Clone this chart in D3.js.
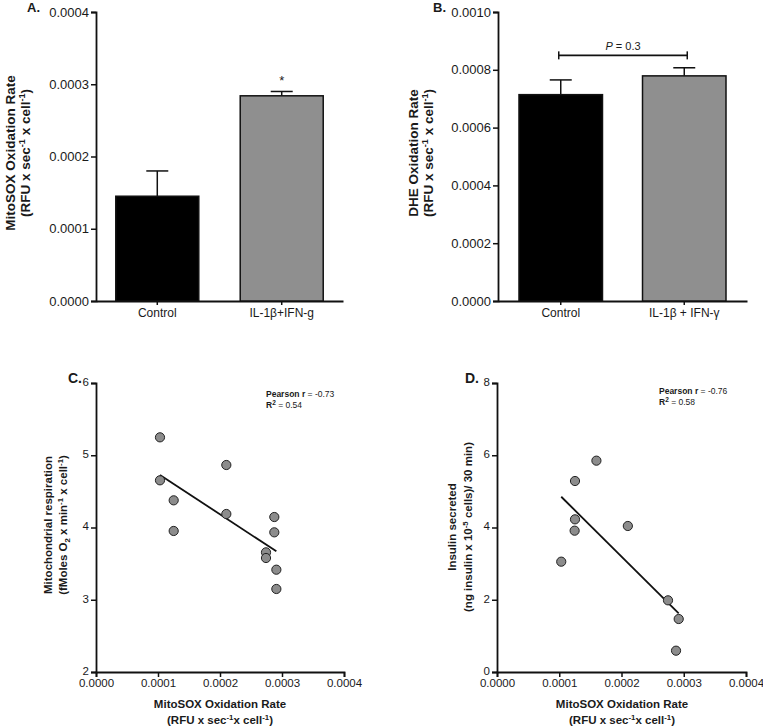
<!DOCTYPE html>
<html><head><meta charset="utf-8">
<script src="https://cdn.jsdelivr.net/npm/d3@7"></script>
<style>body{margin:0;background:#fff}text{font-family:"Liberation Sans",Arial,sans-serif;fill:#1a1a1a}</style>
</head><body>
<svg id="c" width="763" height="726"></svg>
<script>
// ---- Data ----
const barCatsA = ["Control", "IL-1β+IFN-g"];
const barValsA = [0.000145, 0.000284];
const barErrA = [0.000035, 0.000006];
const ticksA = [0, 0.0001, 0.0002, 0.0003, 0.0004];

const barCatsB = ["Control", "IL-1β + IFN-γ"];
const barValsB = [0.000714, 0.000779];
const barErrB = [0.000051, 0.000028];
const ticksB = [0, 0.0002, 0.0004, 0.0006, 0.0008, 0.0010];

const barColors = ["#000000", "#8f8f8f"];

const scatterXC = [0.0001032,0.0001032,0.0001253,0.0001253,0.0002102,0.0002102,0.0002876,0.0002876,0.0002742,0.0002742,0.0002909,0.0002909];
const scatterYC = [5.248,4.653,4.376,3.952,4.865,4.187,4.145,3.933,3.656,3.578,3.416,3.149];
const ticksYC = [2,3,4,5,6];

const scatterXD = [0.0001032,0.0001253,0.0001253,0.0001247,0.0001597,0.0002102,0.0002747,0.0002919,0.0002876];
const scatterYD = [3.054,5.287,4.226,3.912,5.850,4.042,1.984,1.467,0.590];
const ticksYD = [0,2,4,6,8];

const ticksX = [0, 0.0001, 0.0002, 0.0003, 0.0004];

const svg = d3.select("#c");
const fmt4 = d3.format(".4f");

function axisStyle(fs){
  return g=>{
    g.selectAll(".domain").attr("stroke","#111").attr("stroke-width",1.8);
    g.selectAll(".tick line").attr("stroke","#111").attr("stroke-width",1.5);
    g.selectAll(".tick text").attr("font-size",fs).attr("fill","#222").style("font-family",'"Liberation Sans",Arial,sans-serif');
  };
}

function addParts(tx, parts, fs){
  let pend = 0;
  parts.forEach(p=>{
    if (typeof p === "string") {
      const ts = tx.append("tspan").text(p);
      if (pend) { ts.attr("dy", pend); pend = 0; }
    } else {
      const shift = p.sup ? -fs*0.38 : fs*0.3;
      tx.append("tspan").attr("dy",shift + pend).attr("font-size",fs*0.68).text(p.sup||p.sub);
      pend = -shift;
    }
  });
}
function rotTitle(cx, cy, lines, fs, gap){
  const t = svg.append("g").attr("transform",`translate(${cx},${cy}) rotate(-90)`);
  lines.forEach((parts,i)=>{
    const tx = t.append("text").attr("x",0).attr("y",i*gap).attr("dy","0.35em")
      .attr("text-anchor","middle").attr("font-size",fs).attr("font-weight","bold");
    addParts(tx, parts, fs);
  });
}
function hTitle(cx, y, parts, fs){
  const tx = svg.append("text").attr("x",cx).attr("y",y).attr("text-anchor","middle")
    .attr("font-size",fs).attr("font-weight","bold");
  addParts(tx, parts, fs);
}

function barPanel(o){
  const y = d3.scaleLinear().domain(o.domain).range([301,12]);
  const x = d3.scaleBand().domain(o.cats).range(o.xr).paddingInner(o.pi).paddingOuter(o.po);
  svg.append("g").attr("transform",`translate(${o.xr[0]},0)`)
    .call(d3.axisLeft(y).tickValues(o.ticks).tickFormat(fmt4).tickSize(5).tickPadding(2)).call(axisStyle(13));
  svg.append("g").attr("transform",`translate(0,301)`)
    .call(d3.axisBottom(x).tickSize(4).tickSizeOuter(0).tickPadding(3)).call(axisStyle(12));
  o.cats.forEach((c,i)=>{
    const cx = x(c)+x.bandwidth()/2;
    svg.append("line").attr("x1",cx).attr("x2",cx).attr("y1",y(o.vals[i])).attr("y2",y(o.vals[i]+o.err[i])).attr("stroke","#111").attr("stroke-width",1.5);
    svg.append("line").attr("x1",cx-11).attr("x2",cx+11).attr("y1",y(o.vals[i]+o.err[i])).attr("y2",y(o.vals[i]+o.err[i])).attr("stroke","#111").attr("stroke-width",1.5);
    svg.append("rect").attr("x",x(c)).attr("width",x.bandwidth()).attr("y",y(o.vals[i])).attr("height",301-y(o.vals[i]))
      .attr("fill",barColors[i]).attr("stroke","#111").attr("stroke-width",1.5);
  });
  return {x,y};
}

// Panel A
const A = barPanel({domain:[0,0.0004],cats:barCatsA,vals:barValsA,err:barErrA,ticks:ticksA,xr:[96,343],pi:0.333,po:0.159});
svg.append("text").attr("x",A.x(barCatsA[1])+A.x.bandwidth()/2).attr("y",A.y(barValsA[1]+barErrA[1])-6)
  .attr("text-anchor","middle").attr("font-size",13).text("*");
rotTitle(10,153,[["MitoSOX Oxidation Rate"],["(RFU x sec",{sup:"-1"}," x cell",{sup:"-1"},")"]],13.5,15);
svg.append("text").attr("x",27).attr("y",12).attr("font-size",13).attr("font-weight","bold").text("A.");

// Panel B
const B = barPanel({domain:[0,0.001],cats:barCatsB,vals:barValsB,err:barErrB,ticks:ticksB,xr:[498,747],pi:0.324,po:0.17});
{
  const x1 = B.x(barCatsB[0])+B.x.bandwidth()/2 - 2, x2 = B.x(barCatsB[1])+B.x.bandwidth()/2+3, yb = B.y(0.00085);
  svg.append("line").attr("x1",x1).attr("x2",x2).attr("y1",yb).attr("y2",yb).attr("stroke","#111").attr("stroke-width",1.8);
  [x1,x2].forEach(xx=>svg.append("line").attr("x1",xx).attr("x2",xx).attr("y1",yb-4).attr("y2",yb+4).attr("stroke","#111").attr("stroke-width",1.5));
  const t = svg.append("text").attr("x",(x1+x2)/2).attr("y",yb-5).attr("text-anchor","middle").attr("font-size",11);
  t.append("tspan").attr("font-style","italic").text("P");
  t.append("tspan").text(" = 0.3");
}
rotTitle(413,153,[["DHE Oxidation Rate"],["(RFU x sec",{sup:"-1"}," x cell",{sup:"-1"},")"]],13.5,15);
svg.append("text").attr("x",433).attr("y",12).attr("font-size",13).attr("font-weight","bold").text("B.");

// Scatter panels
function scatterPanel(o){
  const x = d3.scaleLinear().domain([0,0.0004]).range(o.xr);
  const y = d3.scaleLinear().domain(o.ydom).range([672,383]);
  svg.append("g").attr("transform",`translate(${o.xr[0]},0)`)
    .call(d3.axisLeft(y).tickValues(o.yticks).tickFormat(d3.format("d")).tickSize(5).tickPadding(2)).call(axisStyle(11.5))
    .selectAll(".tick text").attr("dy","0.2em");
  svg.append("g").attr("transform",`translate(0,672)`)
    .call(d3.axisBottom(x).tickValues(ticksX).tickFormat(fmt4).tickSize(5).tickPadding(2)).call(axisStyle(11.5));
  // regression
  const n = o.xs.length, mx = d3.mean(o.xs), my = d3.mean(o.ys);
  let sxy=0,sxx=0;
  for(let i=0;i<n;i++){sxy+=(o.xs[i]-mx)*(o.ys[i]-my);sxx+=(o.xs[i]-mx)**2;}
  const b = sxy/sxx, a = my-b*mx;
  const [xmin,xmax] = d3.extent(o.xs);
  svg.append("line").attr("x1",x(xmin)).attr("x2",x(xmax)).attr("y1",y(a+b*xmin)).attr("y2",y(a+b*xmax))
    .attr("stroke","#111").attr("stroke-width",1.8);
  o.xs.forEach((v,i)=>svg.append("circle").attr("cx",x(v)).attr("cy",y(o.ys[i])).attr("r",4.6)
    .attr("fill","#8c8c8c").attr("stroke","#222").attr("stroke-width",1));
  const t1 = svg.append("text").attr("x",o.tx).attr("y",o.ty).attr("font-size",8.5);
  t1.append("tspan").attr("font-weight","bold").text("Pearson r");
  t1.append("tspan").text(" = " + o.r);
  const t2 = svg.append("text").attr("x",o.tx).attr("y",o.ty+11).attr("font-size",8.5);
  t2.append("tspan").attr("font-weight","bold").text("R");
  t2.append("tspan").attr("font-weight","bold").attr("font-size",6.5).attr("dy",-3.5).text("2");
  t2.append("tspan").attr("dy",3.5).text(" = " + o.r2);
  hTitle(o.tc, 708, ["MitoSOX Oxidation Rate"], 11.5);
  hTitle(o.tc, 724, ["(RFU x sec",{sup:"-1"},"x cell",{sup:"-1"},")"], 11.5);
  return {x,y};
}
scatterPanel({xs:scatterXC,ys:scatterYC,ydom:[2,6],yticks:ticksYC,xr:[96,344],tx:266,ty:397,r:"-0.73",r2:"0.54",tc:220});
rotTitle(48,525,[["Mitochondrial respiration"],["(fMoles O",{sub:"2"}," x min",{sup:"-1"}," x cell",{sup:"-1"},")"]],11.5,15);
svg.append("text").attr("x",68).attr("y",383).attr("font-size",14).attr("font-weight","bold").text("C.");

scatterPanel({xs:scatterXD,ys:scatterYD,ydom:[0,8],yticks:ticksYD,xr:[497,746],tx:659,ty:394,r:"-0.76",r2:"0.58",tc:622});
rotTitle(452,527,[["Insulin secreted"],["(ng insulin x 10",{sup:"-5"}," cells)/ 30 min)"]],11.5,16);
svg.append("text").attr("x",465).attr("y",383).attr("font-size",14).attr("font-weight","bold").text("D.");
</script>
</body></html>
